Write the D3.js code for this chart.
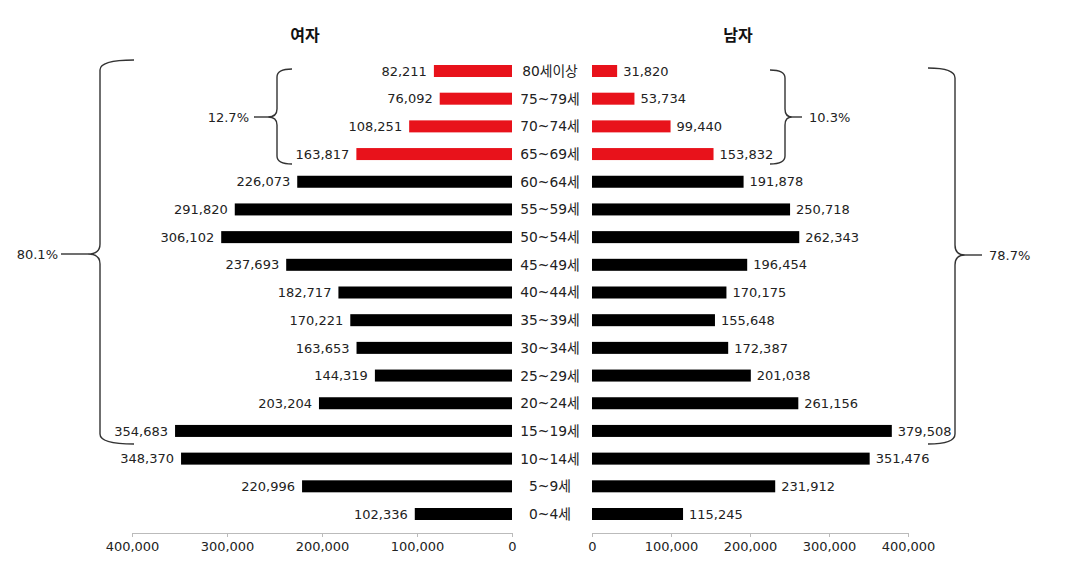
<!DOCTYPE html>
<html><head><meta charset="utf-8">
<script src="https://cdn.jsdelivr.net/npm/d3@7"></script>
<style>
body{margin:0;background:#fff;}
text{font-family:"DejaVu Sans","Noto Sans CJK KR",sans-serif;}
</style></head>
<body><svg id="c" width="1065" height="567"></svg>
<script>
const categories = ["80세이상","75~79세","70~74세","65~69세","60~64세","55~59세","50~54세","45~49세","40~44세","35~39세","30~34세","25~29세","20~24세","15~19세","10~14세","5~9세","0~4세"];
const female = [82211,76092,108251,163817,226073,291820,306102,237693,182717,170221,163653,144319,203204,354683,348370,220996,102336];
const male = [31820,53734,99440,153832,191878,250718,262343,196454,170175,155648,172387,201038,261156,379508,351476,231912,115245];
const tickValues = [0,100000,200000,300000,400000];
const elderly = ["80세이상","75~79세","70~74세","65~69세"];
const braceLabels = {femaleElder:"12.7%", femaleWork:"80.1%", maleElder:"10.3%", maleWork:"78.7%"};

const svg = d3.select("#c");
const y = d3.scalePoint().domain(categories).range([71,514]);
const xL = d3.scaleLinear().domain([0,400000]).range([512,132]);
const xR = d3.scaleLinear().domain([0,400000]).range([592,908]);
const bh = 12;
const fmt = d3.format(",");
const red = "#e8121b", txt = "#222";
const fs = 13;

// titles
svg.append("text").attr("x",305).attr("y",41).attr("text-anchor","middle").attr("font-size",16).attr("font-weight","bold").attr("fill","#111").style("font-family","\"Noto Sans CJK KR\",sans-serif").text("여자");
svg.append("text").attr("x",738).attr("y",41).attr("text-anchor","middle").attr("font-size",16).attr("font-weight","bold").attr("fill","#111").style("font-family","\"Noto Sans CJK KR\",sans-serif").text("남자");

const col = c => elderly.includes(c) ? red : "#000";

// value labels (drawn under bars)
svg.selectAll(".lf").data(categories).join("text")
  .attr("x",(c,i)=>xL(female[i])-7).attr("y",c=>y(c)).attr("dy","0.36em")
  .attr("text-anchor","end").attr("font-size",fs).attr("fill",txt)
  .text((c,i)=>fmt(female[i]));
svg.selectAll(".lm").data(categories).join("text")
  .attr("x",(c,i)=>xR(male[i])+6).attr("y",c=>y(c)).attr("dy","0.36em")
  .attr("text-anchor","start").attr("font-size",fs).attr("fill",txt)
  .text((c,i)=>fmt(male[i]));

// bars
svg.selectAll(".bf").data(categories).join("rect")
  .attr("x",(c,i)=>xL(female[i])).attr("y",c=>y(c)-bh/2)
  .attr("width",(c,i)=>xL(0)-xL(female[i])).attr("height",bh).attr("fill",col);
svg.selectAll(".bm").data(categories).join("rect")
  .attr("x",xR(0)).attr("y",c=>y(c)-bh/2)
  .attr("width",(c,i)=>xR(male[i])-xR(0)).attr("height",bh).attr("fill",col);

// category labels
svg.selectAll(".cl").data(categories).join("text")
  .attr("x",550).attr("y",c=>y(c)).attr("dy","0.36em")
  .attr("text-anchor","middle").attr("font-size",13.8).attr("fill",txt).text(c=>c);

// axes
const axL = svg.append("g").attr("transform","translate(0,533)")
  .call(d3.axisBottom(xL).tickValues(tickValues).tickFormat(fmt).tickSize(4).tickSizeOuter(0));
const axR = svg.append("g").attr("transform","translate(0,533)")
  .call(d3.axisBottom(xR).tickValues(tickValues).tickFormat(fmt).tickSize(4).tickSizeOuter(0));
[axL,axR].forEach(a=>{
  a.select(".domain").attr("stroke","#bbb");
  a.selectAll(".tick line").attr("stroke","#bbb");
  a.selectAll(".tick text").attr("font-size",fs).attr("fill",txt).attr("dy","0.85em")
   .style("font-family","\"DejaVu Sans\",sans-serif");
});

// braces
function brace(xv, xe, xt, top, bot, mid, r){
  return `M${xe},${top} Q${xv},${top} ${xv},${top+r} L${xv},${mid-r} Q${xv},${mid} ${xt},${mid} Q${xv},${mid} ${xv},${mid+r} L${xv},${bot-r} Q${xv},${bot} ${xe},${bot}`;
}
function drawBrace(d, lineFrom, lineTo, my, label, lx, anchor){
  svg.append("path").attr("d",d).attr("fill","none").attr("stroke","#333").attr("stroke-width",1.4);
  svg.append("line").attr("x1",lineFrom).attr("x2",lineTo).attr("y1",my).attr("y2",my).attr("stroke","#333").attr("stroke-width",1.4);
  svg.append("text").attr("x",lx).attr("y",my).attr("dy","0.36em").attr("text-anchor",anchor).attr("font-size",fs).attr("fill",txt).text(label);
}
const topE = y(elderly[0]), botE = y(elderly[3]);
const topW = y(categories[0]), botW = y("15~19세");
drawBrace(brace(100,134,88,topW-11,botW+13,254,10), 61, 88, 254, braceLabels.femaleWork, 58, "end");
drawBrace(brace(277,292,268,topE-2,botE+10,117,8), 254, 268, 117, braceLabels.femaleElder, 249, "end");
drawBrace(brace(785,770,792,topE-1,botE+10,117,8), 792, 802, 117, braceLabels.maleElder, 809, "start");
drawBrace(brace(955,928,965,topW-3,botW+13,255,10), 965, 982, 255, braceLabels.maleWork, 989, "start");
</script></body></html>
